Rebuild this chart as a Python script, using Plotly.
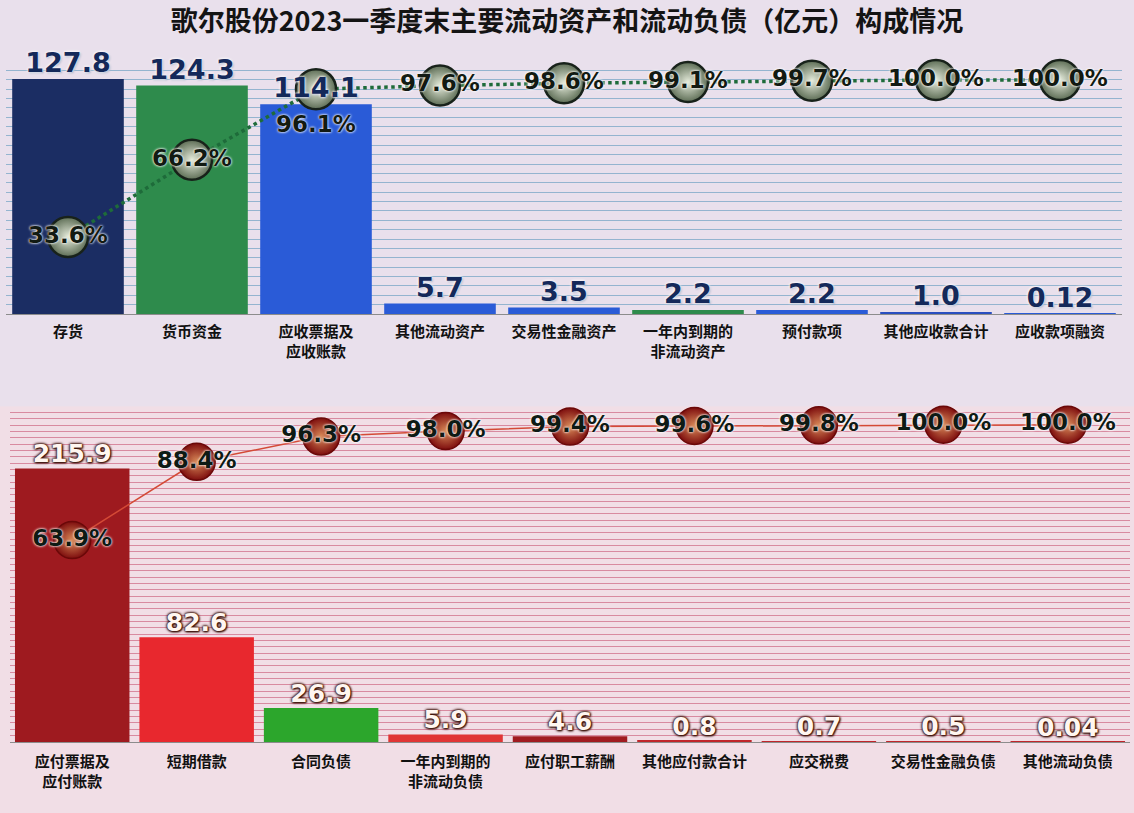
import plotly.graph_objects as go

# ---------------- data ----------------
title_text = "歌尔股份2023一季度末主要流动资产和流动负债（亿元）构成情况"

asset_cats = ["存货", "货币资金", "应收票据及<br>应收账款", "其他流动资产", "交易性金融资产",
              "一年内到期的<br>非流动资产", "预付款项", "其他应收款合计", "应收款项融资"]
asset_vals = [127.8, 124.3, 114.1, 5.7, 3.5, 2.2, 2.2, 1.0, 0.12]
asset_cum_pct = [33.6, 66.2, 96.1, 97.6, 98.6, 99.1, 99.7, 100.0, 100.0]

liab_cats = ["应付票据及<br>应付账款", "短期借款", "合同负债", "一年内到期的<br>非流动负债", "应付职工薪酬",
             "其他应付款合计", "应交税费", "交易性金融负债", "其他流动负债"]
liab_vals = [215.9, 82.6, 26.9, 5.9, 4.6, 0.8, 0.7, 0.5, 0.04]
liab_cum_pct = [63.9, 88.4, 96.3, 98.0, 99.4, 99.6, 99.8, 100.0, 100.0]

# ---------------- styles ----------------
asset_colors = ["#1b2d63", "#2e8b4c", "#2a5bd7", "#2a5bd7", "#2a5bd7",
                "#2e8b4c", "#2a5bd7", "#2a4fc0", "#2a5bd7"]
liab_colors = ["#9e1a1f", "#e8282e", "#2ca62c", "#e03535", "#a01b20",
               "#c0262b", "#c0262b", "#c0262b", "#c0262b"]

W, H = 1134, 813


def fmt(v):
    return f"{v:.2f}" if v < 0.2 else f"{v:.1f}"


def px_dom(a, b, total):
    return [a / total, b / total]


top_x = px_dom(6, 1122, W)
top_y = [1 - 314 / H, 1 - 61 / H]
bot_x = px_dom(10, 1130, W)
bot_y = [1 - 742 / H, 1 - 410 / H]

top_bar_range = [0, 137.6]
bot_bar_range = [0, 262]
top_pct_range = [1.0, 108.0]
bot_pct_range = [0.72, 104.6]
ncat = len(asset_cats)

fig = go.Figure()

# background tint shapes
fig.add_shape(type="rect", xref="paper", yref="paper", x0=0, x1=1, y0=0.5, y1=1,
              fillcolor="#e9e0ec", line_width=0, layer="below")
fig.add_shape(type="rect", xref="paper", yref="paper", x0=0, x1=1, y0=0, y1=0.5,
              fillcolor="#f1dee6", line_width=0, layer="below")

num_font = "DejaVu Sans, Verdana, sans-serif"

# ---- top: bars ----
fig.add_trace(go.Bar(
    x=asset_cats, y=asset_vals, xaxis="x", yaxis="y",
    marker=dict(color=asset_colors, line=dict(width=0)),
    width=0.9, showlegend=False, hoverinfo="skip"))

# ---- top: pareto line ----
top_pos = ["middle center"] * len(asset_cum_pct)
top_pos[2] = "bottom center"
fig.add_trace(go.Scatter(
    x=asset_cats, y=asset_cum_pct, xaxis="x", yaxis="y3",
    mode="lines+markers+text",
    line=dict(color="#1e6b3a", width=3.5, dash="dot"),
    marker=dict(size=40, color="#5e6e56",
                gradient=dict(type="radial", color="#e6ecdc"),
                line=dict(color="#18221a", width=2.5)),
    text=[f"{p:.1f}%" for p in asset_cum_pct], textposition=top_pos,
    textfont=dict(family=num_font, size=23, color="#121a12", weight="bold",
                  shadow="0 0 3px #ffffff, 0 0 2px #ffffff"),
    cliponaxis=False, showlegend=False, hoverinfo="skip"))

# ---- top: bar value labels (on an overlay axis so they sit above the circles) ----
fig.add_trace(go.Scatter(
    x=asset_cats, y=asset_vals, xaxis="x", yaxis="y5", mode="text",
    text=[fmt(v) for v in asset_vals], textposition="top center",
    textfont=dict(family=num_font, size=27, color="#14295a", weight="bold",
                  shadow="0 0 3px #ffffff, 0 0 3px #ffffff, 1px 1px 2px #8090b0"),
    cliponaxis=False, showlegend=False, hoverinfo="skip"))

# ---- bottom: bars ----
fig.add_trace(go.Bar(
    x=liab_cats, y=liab_vals, xaxis="x2", yaxis="y2",
    marker=dict(color=liab_colors, line=dict(width=0)),
    width=0.92, showlegend=False, hoverinfo="skip"))

# ---- bottom: pareto line ----
fig.add_trace(go.Scatter(
    x=liab_cats, y=liab_cum_pct, xaxis="x2", yaxis="y4",
    mode="lines+markers+text",
    line=dict(color="#d44a36", width=1.5),
    marker=dict(size=37, color="#7e0e0e",
                gradient=dict(type="radial", color="#d98a58"),
                line=dict(color="#6a0808", width=1.5)),
    text=[f"{p:.1f}%" for p in liab_cum_pct], textposition="middle center",
    textfont=dict(family=num_font, size=23, color="#0e1a14", weight="bold",
                  shadow="0 0 3px #ffffff, 0 0 2px #ffffff"),
    cliponaxis=False, showlegend=False, hoverinfo="skip"))

# ---- bottom: bar value labels ----
fig.add_trace(go.Scatter(
    x=liab_cats, y=liab_vals, xaxis="x2", yaxis="y6", mode="text",
    text=[fmt(v) for v in liab_vals], textposition="top center",
    textfont=dict(family=num_font, size=25, color="#fff6f0", weight="bold",
                  shadow="0 0 3px #3a1008, 0 0 3px #3a1008, 0 0 2px #3a1008, 1px 1px 2px #3a1008"),
    cliponaxis=False, showlegend=False, hoverinfo="skip"))

cat_font = dict(family="Noto Sans CJK SC", size=15, color="#111111", weight="bold")
hidden = dict(showticklabels=False, showgrid=False, zeroline=False)

fig.update_layout(
    width=W, height=H,
    margin=dict(l=0, r=0, t=0, b=0),
    paper_bgcolor="#ede0e8", plot_bgcolor="rgba(0,0,0,0)",
    title=dict(text=title_text, x=0.5, xanchor="center", y=1 - 22 / H, yanchor="middle",
               font=dict(family="Noto Sans CJK SC", size=27, color="#141414", weight="bold")),
    xaxis=dict(domain=top_x, anchor="y", range=[-0.5, ncat - 0.5],
               showline=True, linecolor="#8c8c8c", linewidth=1,
               ticks="", tickfont=cat_font, ticklabelstandoff=4, showgrid=False),
    yaxis=dict(domain=top_y, anchor="x", range=top_bar_range, showticklabels=False,
               showgrid=True, gridcolor="#94b4cf", gridwidth=1,
               tick0=0, dtick=top_bar_range[1] / 27, zeroline=False),
    yaxis3=dict(overlaying="y", anchor="x", range=top_pct_range, **hidden),
    yaxis5=dict(overlaying="y", anchor="x", range=top_bar_range, **hidden),
    xaxis2=dict(domain=bot_x, anchor="y2", range=[-0.5, ncat - 0.5],
                showline=True, linecolor="#8c8c8c", linewidth=1,
                ticks="", tickfont=cat_font, ticklabelstandoff=6, showgrid=False),
    yaxis2=dict(domain=bot_y, anchor="x2", range=bot_bar_range, showticklabels=False,
                showgrid=True, gridcolor="#d88aa0", gridwidth=1,
                tick0=0, dtick=5, zeroline=False),
    yaxis4=dict(overlaying="y2", anchor="x2", range=bot_pct_range, **hidden),
    yaxis6=dict(overlaying="y2", anchor="x2", range=bot_bar_range, **hidden),
)

fig.write_html("out.html", config={"displayModeBar": False},
               post_script="document.body.style.margin='0';document.body.style.overflow='hidden';")
